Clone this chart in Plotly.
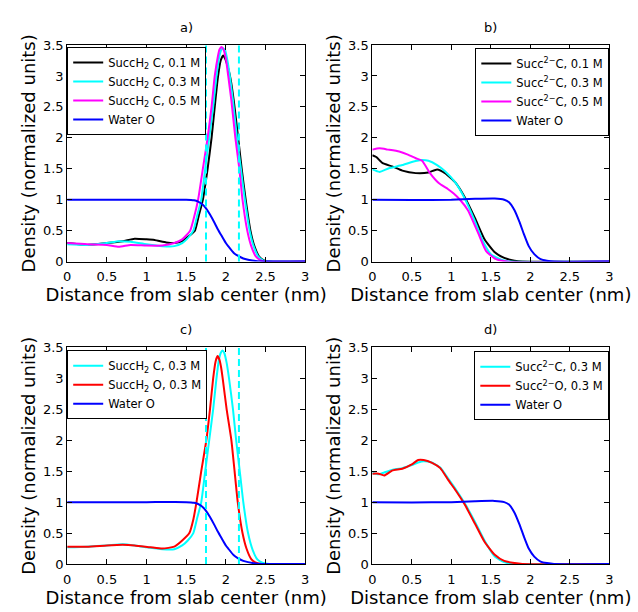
import plotly.graph_objects as go

# ---------------- data ----------------
# Panel a) SuccH2 C at three concentrations + water O
a_black_x = [0, 0.25, 0.5, 0.7, 0.85, 1.0, 1.1, 1.25, 1.35, 1.45, 1.52, 1.61, 1.66, 1.71, 1.77, 1.82, 1.86, 1.9, 1.935, 1.966, 1.995, 2.03, 2.06, 2.1, 2.155, 2.2, 2.25, 2.31, 2.36, 2.42, 2.48, 2.55, 3.0]
a_black_y = [0.30, 0.27, 0.30, 0.33, 0.37, 0.36, 0.35, 0.31, 0.30, 0.33, 0.40, 0.5, 0.75, 1.0, 1.5, 2.0, 2.5, 2.98, 3.25, 3.33, 3.27, 3.12, 2.95, 2.6, 2.0, 1.5, 1.0, 0.5, 0.25, 0.08, 0.02, 0, 0]

a_cyan_x = [0, 0.25, 0.5, 0.65, 0.8, 1.0, 1.2, 1.35, 1.45, 1.52, 1.59, 1.64, 1.69, 1.74, 1.79, 1.84, 1.88, 1.92, 1.945, 1.966, 1.99, 2.02, 2.05, 2.09, 2.14, 2.19, 2.24, 2.3, 2.35, 2.41, 2.47, 2.55, 3.0]
a_cyan_y = [0.28, 0.27, 0.30, 0.33, 0.32, 0.28, 0.25, 0.25, 0.30, 0.38, 0.5, 0.75, 1.0, 1.5, 2.0, 2.5, 2.98, 3.33, 3.43, 3.45, 3.42, 3.25, 3.0, 2.6, 2.0, 1.5, 1.0, 0.5, 0.25, 0.08, 0.02, 0, 0]

a_mag_x = [0, 0.25, 0.5, 0.65, 0.8, 1.0, 1.2, 1.35, 1.45, 1.55, 1.6, 1.65, 1.71, 1.77, 1.82, 1.86, 1.9, 1.92, 1.945, 1.97, 2.0, 2.03, 2.07, 2.12, 2.17, 2.21, 2.27, 2.32, 2.38, 2.44, 2.5, 3.0]
a_mag_y = [0.30, 0.28, 0.27, 0.24, 0.27, 0.26, 0.26, 0.30, 0.36, 0.5, 0.72, 1.0, 1.5, 2.0, 2.5, 3.0, 3.32, 3.43, 3.47, 3.43, 3.28, 3.0, 2.6, 2.0, 1.5, 1.0, 0.5, 0.25, 0.08, 0.02, 0, 0]

water_ac_x = [0, 0.5, 1.0, 1.5, 1.6, 1.65, 1.7, 1.75, 1.8, 1.86, 1.9, 1.945, 2.0, 2.03, 2.1, 2.15, 2.22, 2.28, 2.4, 3.0]
water_ac_y = [1.0, 1.0, 1.0, 1.0, 0.99, 0.97, 0.93, 0.86, 0.76, 0.62, 0.52, 0.42, 0.30, 0.25, 0.14, 0.095, 0.05, 0.03, 0.005, 0]

# Panel b) Succ2- C at three concentrations + water O
b_black_x = [0, 0.05, 0.13, 0.25, 0.38, 0.55, 0.71, 0.82, 0.92, 1.05, 1.17, 1.3, 1.42, 1.55, 1.67, 1.8, 1.9, 3.0]
b_black_y = [1.72, 1.69, 1.59, 1.54, 1.47, 1.43, 1.44, 1.49, 1.43, 1.28, 1.04, 0.70, 0.36, 0.15, 0.06, 0.015, 0, 0]

b_cyan_x = [0, 0.09, 0.21, 0.38, 0.5, 0.6, 0.71, 0.82, 0.92, 1.05, 1.17, 1.3, 1.4, 1.5, 1.63, 1.75, 3.0]
b_cyan_y = [1.49, 1.45, 1.51, 1.56, 1.61, 1.64, 1.63, 1.56, 1.46, 1.28, 1.02, 0.65, 0.33, 0.12, 0.03, 0, 0]

b_mag_x = [0, 0.09, 0.2, 0.34, 0.45, 0.55, 0.63, 0.73, 0.84, 0.96, 1.03, 1.11, 1.21, 1.34, 1.44, 1.55, 1.71, 3.0]
b_mag_y = [1.81, 1.83, 1.81, 1.78, 1.73, 1.67, 1.63, 1.43, 1.27, 1.17, 1.10, 1.0, 0.83, 0.46, 0.17, 0.05, 0, 0]

water_bd_x = [0, 0.5, 1.0, 1.3, 1.55, 1.67, 1.73, 1.8, 1.86, 1.92, 1.98, 2.05, 2.13, 2.21, 2.3, 3.0]
water_bd_y = [1.0, 0.995, 1.0, 1.015, 1.02, 1.0, 0.96, 0.83, 0.65, 0.44, 0.25, 0.12, 0.04, 0.015, 0, 0]

# Panel c) SuccH2 C and O at 0.3 M + water O
c_cyan_x = [0, 0.25, 0.5, 0.7, 0.85, 1.0, 1.2, 1.35, 1.45, 1.52, 1.59, 1.64, 1.69, 1.74, 1.79, 1.84, 1.88, 1.91, 1.935, 1.957, 1.98, 2.01, 2.04, 2.09, 2.13, 2.18, 2.22, 2.28, 2.34, 2.4, 2.46, 2.55, 3.0]
c_cyan_y = [0.27, 0.28, 0.30, 0.32, 0.30, 0.27, 0.24, 0.24, 0.30, 0.38, 0.5, 0.75, 1.0, 1.5, 2.0, 2.5, 2.98, 3.28, 3.41, 3.45, 3.41, 3.25, 3.0, 2.5, 2.0, 1.45, 1.0, 0.5, 0.22, 0.07, 0.02, 0, 0]

c_red_x = [0, 0.25, 0.5, 0.7, 0.85, 1.05, 1.2, 1.35, 1.45, 1.54, 1.59, 1.63, 1.69, 1.754, 1.8, 1.84, 1.87, 1.895, 1.92, 1.94, 1.96, 2.01, 2.07, 2.11, 2.15, 2.21, 2.26, 2.32, 2.38, 2.45, 3.0]
c_red_y = [0.28, 0.28, 0.30, 0.31, 0.30, 0.27, 0.25, 0.28, 0.38, 0.5, 0.72, 1.0, 1.5, 2.0, 2.5, 3.0, 3.27, 3.36, 3.3, 3.18, 3.0, 2.5, 2.0, 1.5, 1.0, 0.5, 0.25, 0.08, 0.02, 0, 0]

# Panel d) Succ2- C and O at 0.3 M + water O
d_cyan_x = [0, 0.08, 0.15, 0.25, 0.38, 0.5, 0.58, 0.65, 0.75, 0.86, 0.96, 1.06, 1.17, 1.3, 1.42, 1.55, 1.67, 1.8, 3.0]
d_cyan_y = [1.47, 1.45, 1.48, 1.52, 1.55, 1.60, 1.64, 1.66, 1.64, 1.56, 1.38, 1.20, 0.98, 0.68, 0.38, 0.12, 0.03, 0, 0]

d_red_x = [0, 0.08, 0.15, 0.25, 0.38, 0.5, 0.58, 0.65, 0.75, 0.86, 0.96, 1.06, 1.17, 1.3, 1.42, 1.55, 1.67, 1.8, 1.9, 3.0]
d_red_y = [1.46, 1.46, 1.43, 1.51, 1.54, 1.61, 1.68, 1.68, 1.64, 1.55, 1.36, 1.18, 0.96, 0.65, 0.36, 0.15, 0.05, 0.015, 0, 0]

# Vertical dashed reference lines (panels a and c)
dashed_x = [1.75, 2.165]

# Axis ticks
x_tickvals = [0, 0.5, 1, 1.5, 2, 2.5, 3]
x_ticktext = ["0", "0.5", "1", "1.5", "2", "2.5", "3"]
y_tickvals = [0, 0.5, 1, 1.5, 2, 2.5, 3, 3.5]
y_ticktext = ["0", "0.5", "1", "1.5", "2", "2.5", "3", "3.5"]

panel_titles = ["a)", "b)", "c)", "d)"]
x_title = "Distance from slab center (nm)"
y_title = "Density (normalized units)"

# ---------------- figure ----------------
W, H = 638, 612
FONT = "DejaVu Sans"
BLACK, CYAN, MAGENTA, BLUE, RED = "#000000", "#00FFFF", "#FF00FF", "#0000FF", "#FF0000"

# pixel geometry of the four axes boxes
col_px = [(64, 305), (373, 613)]
row_px = [(39, 261), (349, 571)]


def px_x(p):
    return p / W


def px_y(p):
    return (H - p) / H


def xdom(c):
    return [px_x(col_px[c][0]), px_x(col_px[c][1])]


def ydom(r):
    return [px_y(row_px[r][1]), px_y(row_px[r][0])]


fig = go.Figure()

panels = [
    ("", "legend", [
        (a_black_x, a_black_y, BLACK, "SuccH<sub>2</sub> C, 0.1 M"),
        (a_cyan_x, a_cyan_y, CYAN, "SuccH<sub>2</sub> C, 0.3 M"),
        (a_mag_x, a_mag_y, MAGENTA, "SuccH<sub>2</sub> C, 0.5 M"),
        (water_ac_x, water_ac_y, BLUE, "Water O"),
    ]),
    ("2", "legend2", [
        (b_black_x, b_black_y, BLACK, "Succ<sup>2\u2212</sup>C, 0.1 M"),
        (b_cyan_x, b_cyan_y, CYAN, "Succ<sup>2\u2212</sup>C, 0.3 M"),
        (b_mag_x, b_mag_y, MAGENTA, "Succ<sup>2\u2212</sup>C, 0.5 M"),
        (water_bd_x, water_bd_y, BLUE, "Water O"),
    ]),
    ("3", "legend3", [
        (c_cyan_x, c_cyan_y, CYAN, "SuccH<sub>2</sub> C, 0.3 M"),
        (c_red_x, c_red_y, RED, "SuccH<sub>2</sub> O, 0.3 M"),
        (water_ac_x, water_ac_y, BLUE, "Water O"),
    ]),
    ("4", "legend4", [
        (d_cyan_x, d_cyan_y, CYAN, "Succ<sup>2\u2212</sup>C, 0.3 M"),
        (d_red_x, d_red_y, RED, "Succ<sup>2\u2212</sup>O, 0.3 M"),
        (water_bd_x, water_bd_y, BLUE, "Water O"),
    ]),
]

for suffix, leg, series in panels:
    for xs, ys, col, name in series:
        fig.add_trace(go.Scatter(
            x=xs, y=ys, mode="lines", name=name,
            line=dict(color=col, width=2, shape="spline", smoothing=0.5),
            xaxis="x" + suffix, yaxis="y" + suffix, legend=leg,
        ))

for suffix in ["", "3"]:
    for xv in dashed_x:
        fig.add_shape(type="line", xref="x" + suffix, yref=("y" + suffix) + " domain",
                      x0=xv, x1=xv, y0=0, y1=1,
                      line=dict(color=CYAN, width=2, dash="7px,4px"))

axis_common = dict(
    range=[0, 3], tickvals=x_tickvals, ticktext=x_ticktext,
    ticks="inside", ticklen=5, tickcolor="black", mirror="allticks",
    showline=True, linecolor="black", linewidth=1, showgrid=False, zeroline=False,
    tickfont=dict(family=FONT, size=13, color="black"), ticklabelstandoff=3,
    title=dict(text=x_title, font=dict(family=FONT, size=18, color="black"), standoff=0),
)
yaxis_common = dict(
    range=[0, 3.5], tickvals=y_tickvals, ticktext=y_ticktext,
    ticks="inside", ticklen=5, tickcolor="black", mirror="allticks",
    showline=True, linecolor="black", linewidth=1, showgrid=False, zeroline=False,
    tickfont=dict(family=FONT, size=13, color="black"),
    title=dict(text=y_title, font=dict(family=FONT, size=18, color="black"), standoff=2),
)

layout = dict(
    width=W, height=H, margin=dict(l=0, r=0, t=0, b=0),
    paper_bgcolor="white", plot_bgcolor="white",
    font=dict(family=FONT, color="black"),
)
cells = [(0, 0), (0, 1), (1, 0), (1, 1)]
ids = ["", "2", "3", "4"]
for (r, c), sid in zip(cells, ids):
    layout["xaxis" + sid] = dict(axis_common, domain=xdom(c), anchor="y" + sid)
    layout["yaxis" + sid] = dict(yaxis_common, domain=ydom(r), anchor="x" + sid)

legend_common = dict(
    bgcolor="white", bordercolor="black", borderwidth=1,
    font=dict(family=FONT, size=11.5, color="black"),
    tracegroupgap=0, itemwidth=30, yanchor="top",
)
layout["legend"] = dict(legend_common, x=px_x(64), xanchor="left", y=px_y(41))
layout["legend2"] = dict(legend_common, x=px_x(613), xanchor="right", y=px_y(42))
layout["legend3"] = dict(legend_common, x=px_x(64), xanchor="left", y=px_y(352))
layout["legend4"] = dict(legend_common, x=px_x(613), xanchor="right", y=px_y(353))

annotations = []
for (r, c), t in zip(cells, panel_titles):
    annotations.append(dict(
        text=t, xref="paper", yref="paper",
        x=px_x((col_px[c][0] + col_px[c][1]) / 2),
        y=px_y(row_px[r][0] - 18),
        xanchor="center", yanchor="middle", showarrow=False,
        font=dict(family=FONT, size=13, color="black"),
    ))
layout["annotations"] = annotations

fig.update_layout(**layout)
# remove the browser's default 8px body margin so the figure fills the window exactly
fig.write_html("out.html", config={"displayModeBar": False},
               post_script="document.body.style.margin='0px';document.body.style.padding='0px';")
